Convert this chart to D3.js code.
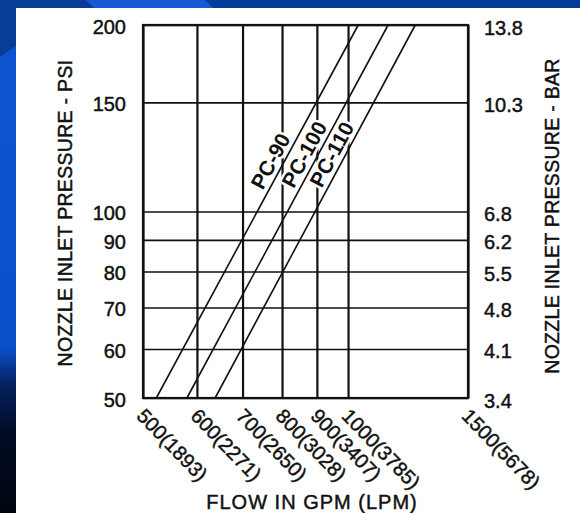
<!DOCTYPE html>
<html>
<head>
<meta charset="utf-8">
<script src="https://cdn.jsdelivr.net/npm/d3@7"></script>
<style>
  html, body { margin: 0; padding: 0; background: #000; }
  svg { display: block; font-family: "Liberation Sans", Arial, sans-serif; }
  .ink { fill: #111; stroke: #111; stroke-width: 0.45px; }
</style>
</head>
<body>
<div id="chart"></div>
<script>
// values
const psiTicks = [50, 60, 70, 80, 90, 100, 150, 200];
const barLabels = ["3.4", "4.1", "4.8", "5.5", "6.2", "6.8", "10.3", "13.8"];
const gpmTicks = [500, 600, 700, 800, 900, 1000, 1500];
const lpmTicks = [1893, 2271, 2650, 3028, 3407, 3785, 5678];
const nozzles = ["PC-90", "PC-100", "PC-110"];
const psiEnds = [50, 200];
const gpmAt50 = [523, 580, 638];
const gpmAt200 = [1035, 1145, 1255];

const W = 580, H = 513;
const m = {top: 25, right: 112, bottom: 115, left: 143};
const w = W - m.left - m.right;
const h = H - m.top - m.bottom;

const svg = d3.select('#chart').append('svg')
    .attr('width', W)
    .attr('height', H);

// slide background
const grad = svg.append('defs').append('linearGradient')
    .attr('id', 'leftGrad')
    .attr('x1', 0).attr('y1', 0).attr('x2', 0).attr('y2', 1);
[[0, '#0c55d2'], [0.68, '#0a4fc8'], [0.75, '#04215e'], [0.85, '#010b24'], [1, '#00050f']]
    .forEach(s => grad.append('stop').attr('offset', s[0]).attr('stop-color', s[1]));
svg.append('rect').attr('width', W).attr('height', H).attr('fill', 'url(#leftGrad)');
svg.append('rect').attr('width', W).attr('height', 8).attr('fill', '#053c9a');
svg.append('polygon').attr('points', '86,0 205,0 213,8 94,8').attr('fill', '#1659d4');
svg.append('polygon').attr('points', '0,0 84,0 0,57').attr('fill', '#083d96');
svg.append('rect').attr('x', 16).attr('y', 8).attr('width', W - 16).attr('height', H - 8).attr('fill', '#fff');

const g = svg.append('g').attr('transform', `translate(${m.left},${m.top})`);

const x = d3.scaleLog().domain([500, 1500]).range([0, w]);
const y = d3.scaleLog().domain([50, 200]).range([h, 0]);

// horizontal grid + psi labels
g.append('g')
    .call(d3.axisLeft(y).tickValues(psiTicks).tickSize(-w).tickPadding(17).tickFormat(d3.format('d')))
    .call(a => a.select('.domain').remove())
    .call(a => a.selectAll('line').attr('stroke', '#111').attr('stroke-width', 1.6))
    .call(a => a.selectAll('text').attr('dy', '0.42em').attr('class', 'ink')
        .style('font-size', '20px'));

// bar labels on the right
g.append('g')
    .attr('transform', `translate(${w},0)`)
    .call(d3.axisRight(y).tickValues(psiTicks).tickSize(0).tickPadding(16).tickFormat((d, i) => barLabels[i]))
    .call(a => a.select('.domain').remove())
    .call(a => a.selectAll('text').attr('dy', '0.45em').attr('class', 'ink')
        .style('font-size', '20px'));

// vertical grid + flow labels
g.append('g')
    .attr('transform', `translate(0,${h})`)
    .call(d3.axisBottom(x).tickValues(gpmTicks).tickSize(-h).tickFormat((d, i) => `${d}(${lpmTicks[i]})`))
    .call(a => a.select('.domain').remove())
    .call(a => a.selectAll('line').attr('stroke', '#111').attr('stroke-width', 2.2))
    .call(a => a.selectAll('text')
        .attr('x', 0).attr('y', 0).attr('dy', 0)
        .attr('transform', 'translate(-8,19) rotate(46)')
        .attr('text-anchor', 'start')
        .attr('class', 'ink')
        .style('font-size', '20px'));

// frame
g.append('rect')
    .attr('width', w).attr('height', h)
    .attr('fill', 'none').attr('stroke', '#111').attr('stroke-width', 2.2);

// nozzle curves (straight on log-log)
const line = d3.line().x(d => x(d.gpm)).y(d => y(d.psi));
nozzles.forEach((name, i) => {
    const pts = psiEnds.map((p, j) => ({psi: p, gpm: j === 0 ? gpmAt50[i] : gpmAt200[i]}));
    g.append('path')
        .datum(pts)
        .attr('d', line)
        .attr('fill', 'none')
        .attr('stroke', '#111')
        .attr('stroke-width', 1.6);
});

// labels along each curve
nozzles.forEach((name, i) => {
    const labelPsi = i === 0 ? 118 : 121;
    const t = Math.log(labelPsi / psiEnds[0]) / Math.log(psiEnds[1] / psiEnds[0]);
    const gpm = Math.exp(Math.log(gpmAt50[i]) + t * (Math.log(gpmAt200[i]) - Math.log(gpmAt50[i])));
    const ang = Math.atan2(y(psiEnds[1]) - y(psiEnds[0]), x(gpmAt200[i]) - x(gpmAt50[i])) * 180 / Math.PI;
    g.append('text')
        .attr('transform', `translate(${x(gpm)},${y(labelPsi)}) rotate(${ang})`)
        .attr('dy', -5)
        .attr('text-anchor', 'middle')
        .attr('fill', '#111')
        .attr('stroke', '#fff')
        .attr('stroke-width', 5)
        .attr('paint-order', 'stroke')
        .style('font-size', '21px')
        .style('font-weight', 'bold')
        .text(name);
});

// axis titles
svg.append('text')
    .attr('transform', 'translate(65,213) rotate(-90)')
    .attr('text-anchor', 'middle')
    .attr('dominant-baseline', 'central')
    .attr('class', 'ink')
    .style('font-size', '19.5px')
    .style('letter-spacing', '0.3px')
    .text('NOZZLE INLET PRESSURE - PSI');

svg.append('text')
    .attr('transform', 'translate(552,216) rotate(-90)')
    .attr('text-anchor', 'middle')
    .attr('dominant-baseline', 'central')
    .attr('class', 'ink')
    .style('font-size', '19.5px')
    .style('letter-spacing', '0.3px')
    .text('NOZZLE INLET PRESSURE - BAR');

svg.append('text')
    .attr('x', 312)
    .attr('y', 509)
    .attr('text-anchor', 'middle')
    .attr('class', 'ink')
    .style('font-size', '20px')
    .style('letter-spacing', '1px')
    .text('FLOW IN GPM (LPM)');
</script>
</body>
</html>
